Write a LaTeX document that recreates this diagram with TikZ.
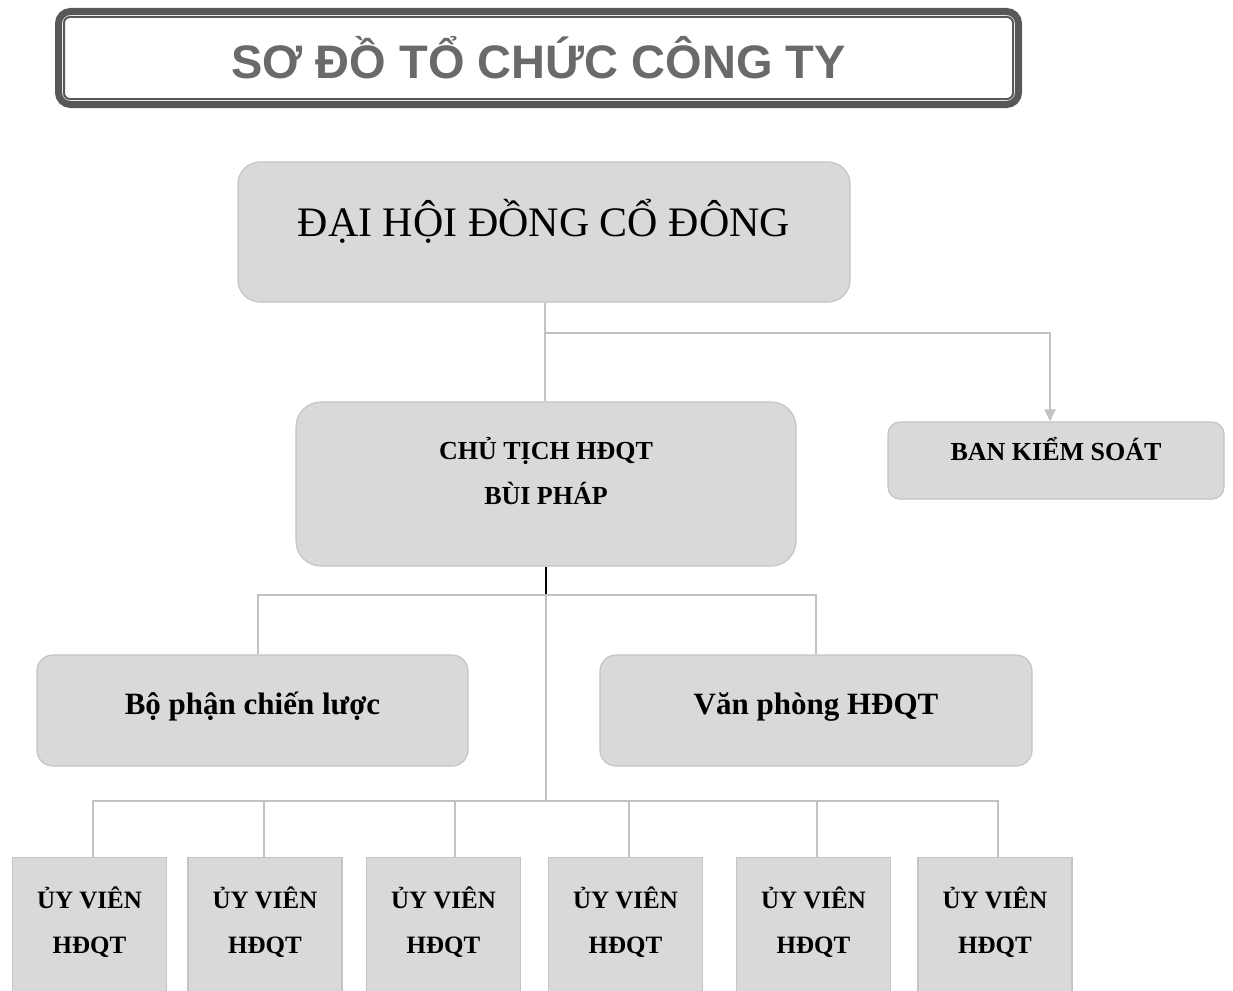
\documentclass[tikz,border=0pt]{standalone}
\usepackage{fontspec}
\setmainfont{Liberation Serif}
\newfontfamily\titlefont{Liberation Sans}
\usepackage{xcolor}
\usepackage{tikz}
\usetikzlibrary{arrows.meta, positioning, calc}

\definecolor{boxfill}{HTML}{D9D9D9}
\definecolor{boxline}{HTML}{C4C4C4}
\definecolor{linkgray}{HTML}{C2C2C2}
\definecolor{framegray}{HTML}{585858}
\definecolor{titlegray}{HTML}{6A6A6A}

\tikzset{
  orgbox/.style={draw=boxline, fill=boxfill, line width=1.2pt, rounded corners=#1,
    inner sep=0pt},
  orgbox/.default=16pt,
  boxtext/.style={align=center, inner sep=0pt},
  memberbox/.style={draw=boxline, fill=boxfill, line width=1.2pt,
    inner sep=0pt, minimum width=154pt, minimum height=140pt},
  membertext/.style={boxtext, yshift=5pt, font=\bfseries\fontsize{25}{45}\selectfont},
  link/.style={draw=linkgray, line width=2pt},
}

\begin{document}
\begin{tikzpicture}[x=1pt, y=-1pt]

  \useasboundingbox[fill=white] (0,0) rectangle (1233,990);

  % ----- Title -----
  \node[draw=framegray, line width=7pt, rounded corners=12pt, fill=white,
        minimum width=960pt, minimum height=93pt, inner sep=0pt,
        text=titlegray, font=\titlefont\bfseries\fontsize{47}{50}\selectfont]
        (title) at (538.5,58) {SƠ ĐỒ TỔ CHỨC CÔNG TY};
  \draw[framegray, line width=2pt, rounded corners=6pt]
        ($(title.north west)+(9,9)$) rectangle ($(title.south east)+(-9,-9)$);

  % ----- Top levels -----
  \node[orgbox=22pt, minimum width=612pt, minimum height=140pt,
        label={[boxtext, yshift=11pt, font=\fontsize{42}{48}\selectfont]center:ĐẠI HỘI ĐỒNG CỔ ĐÔNG}]
        (dhcd) at (544,232) {};

  \node[orgbox=25pt, minimum width=500pt, minimum height=164pt,
        label={[boxtext, yshift=13pt, font=\bfseries\fontsize{26}{45}\selectfont]center:CHỦ TỊCH HĐQT\\BÙI PHÁP}]
        (chutich) at (546,484) {};

  \node[orgbox=12pt, minimum width=336pt, minimum height=77pt,
        label={[boxtext, yshift=11pt, font=\bfseries\fontsize{26}{30}\selectfont]center:BAN KIỂM SOÁT}]
        (bks) at (1056,460.5) {};

  % ----- Middle level -----
  \node[orgbox, minimum width=431pt, minimum height=111pt,
        label={[boxtext, yshift=4pt, font=\bfseries\fontsize{31}{36}\selectfont]center:Bộ phận chiến lược}]
        (chienluoc) at (252.5,710.5) {};
  \node[orgbox, minimum width=432pt, minimum height=111pt,
        label={[boxtext, yshift=4pt, font=\bfseries\fontsize{31}{36}\selectfont]center:Văn phòng HĐQT}]
        (vanphong) at (816,710.5) {};

  % ----- Members -----
  \foreach \i/\x in {1/89.5, 2/265, 3/443.5, 4/625.5, 5/813.5, 6/995}
    \node[memberbox, anchor=north, label={[membertext]center:ỦY VIÊN\\HĐQT}]
      (uv\i) at (\x,857) {};

  % ----- Connectors -----
  \coordinate (j1) at ($(dhcd.south)+(1,30)$);
  \draw[link] (j1 |- dhcd.south) -- (j1 |- chutich.north);
  \draw[link, -{Triangle[width=11pt,length=12pt]}, linkgray] (j1) -| ($(bks.north)+(-6,0)$);

  \coordinate (j2) at ($(chutich.south)+(0,28)$);
  \coordinate (j3) at ($(chutich.south)+(0,234)$);
  \draw[black, line width=1.6pt] (chutich.south) -- (j2);
  \draw[link] (j2) -- (j3);
  \draw[link] (j2) -| ($(chienluoc.north)+(5.5,0)$);
  \draw[link] (j2) -| (vanphong.north);

  \foreach \i/\dx in {1/3.5, 2/-1, 3/11.5, 4/3.5, 5/3.5, 6/3}
    \draw[link] (j3) -| ($(uv\i.north)+(\dx,0)$);

\end{tikzpicture}
\end{document}
